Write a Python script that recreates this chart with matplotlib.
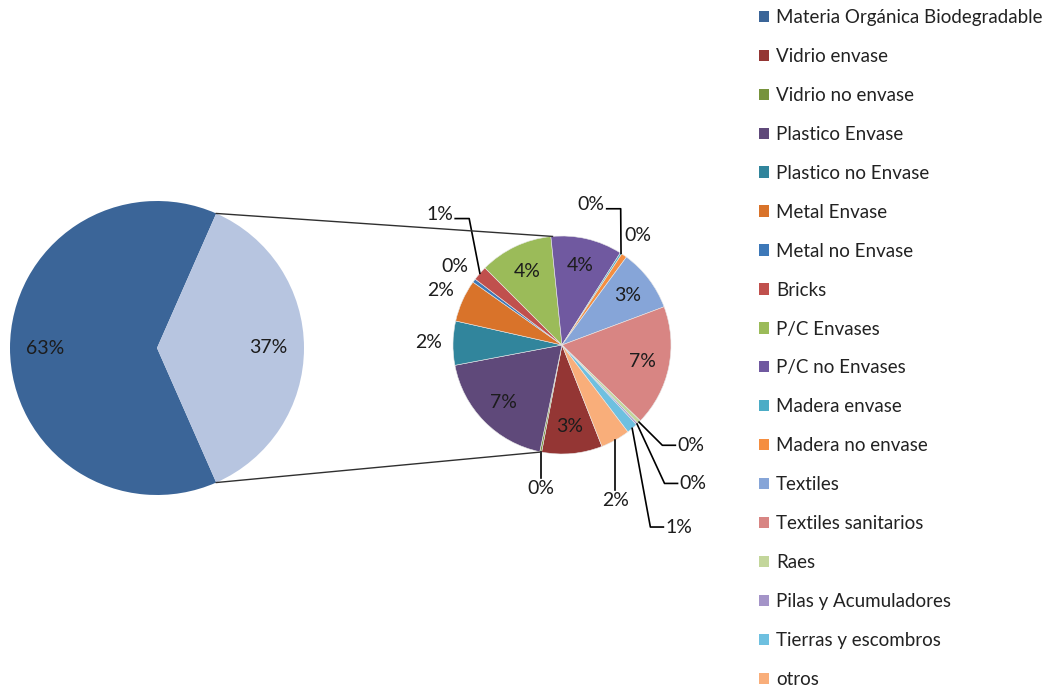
import matplotlib.pyplot as plt
import numpy as np
from matplotlib.patches import Patch

categories = [
    'Materia Orgánica Biodegradable', 'Vidrio envase', 'Vidrio no envase',
    'Plastico Envase', 'Plastico no Envase', 'Metal Envase', 'Metal no Envase',
    'Bricks', 'P/C Envases', 'P/C no Envases', 'Madera envase',
    'Madera no envase', 'Textiles', 'Textiles sanitarios', 'Raes',
    'Pilas y Acumuladores', 'Tierras y escombros', 'otros',
]
values = [63.2, 3.3, 0.1, 6.9, 2.4, 2.3, 0.2, 0.8, 4.0, 3.9, 0.1, 0.3,
          3.4, 6.6, 0.2, 0.1, 0.6, 1.6]
colors = ['#3B6598', '#943634', '#77933C', '#5F497A', '#31859C', '#D9732A',
          '#3D78B8', '#C0504D', '#9BBB59', '#7059A0', '#4BACC6', '#F58E40',
          '#86A5D8', '#D88583', '#C3D69B', '#A494C8', '#6EC0E0', '#F9AE7A']
rest_color = '#B7C5E0'

# label placement for the small slices of the secondary pie (in radius units)
leaders = {
    'Bricks': (-0.98, 1.16, 'right'),
    'Madera envase': (0.41, 1.25, 'right'),
    'Raes': (1.04, -0.92, 'left'),
    'Pilas y Acumuladores': (1.06, -1.27, 'left'),
    'Tierras y escombros': (0.93, -1.67, 'left'),
    'otros': (0, -1.33, 'down'),
    'Vidrio no envase': (0, -1.22, 'down'),
}

plt.rcParams['font.family'] = ['Lato', 'DejaVu Sans']
txt_color = '#1c1c1c'
lab_size = 14

fig = plt.figure(figsize=(10.49, 6.87), dpi=100)
ax = fig.add_axes([0, 0, 1, 1])

total = sum(values)
main_vals = [values[0], sum(values[1:])]
c1, r1 = (157, 339), 147
c2, r2 = (562, 342), 109

w_main, _ = ax.pie(main_vals, colors=[colors[0], rest_color], center=c1, radius=r1,
                   startangle=main_vals[1] / total * 180,
                   wedgeprops=dict(linewidth=0))
w_sec, _ = ax.pie(values[1:], colors=colors[1:], center=c2, radius=r2,
                  startangle=-68.5, counterclock=False,
                  wedgeprops=dict(linewidth=0.4, edgecolor='#e8e8e8'))

def pct(v):
    return f'{v / total * 100:.0f}%'

for w, v in zip(w_main, main_vals):
    a = np.deg2rad((w.theta1 + w.theta2) / 2)
    ax.text(c1[0] + 0.76 * r1 * np.cos(a), c1[1] + 0.76 * r1 * np.sin(a), pct(v),
            ha='center', va='center', fontsize=lab_size, color=txt_color)

for w, v, name in zip(w_sec, values[1:], categories[1:]):
    a = np.deg2rad((w.theta1 + w.theta2) / 2)
    px, py = c2[0] + r2 * np.cos(a), c2[1] + r2 * np.sin(a)
    if v >= 3:
        ax.text(c2[0] + 0.75 * r2 * np.cos(a), c2[1] + 0.75 * r2 * np.sin(a), pct(v),
                ha='center', va='center', fontsize=lab_size, color=txt_color)
    elif name in leaders:
        dx, dy, side = leaders[name]
        ax_, ay = c2[0] + dx * r2, c2[1] + dy * r2
        if side == 'right':
            ax.plot([px, ax_ + 14, ax_], [py, ay, ay], color='black', lw=1.2)
            ax.text(ax_ - 2, ay + 4, pct(v), ha='right', va='center', fontsize=lab_size, color=txt_color)
        elif side == 'left':
            ax.plot([px, ax_ - 13, ax_], [py, ay, ay], color='black', lw=1.2)
            ax.text(ax_ + 2, ay, pct(v), ha='left', va='center', fontsize=lab_size, color=txt_color)
        else:
            ax.plot([px, px], [py, ay], color='black', lw=1.2)
            ax.text(px, ay - 2, pct(v), ha='center', va='top', fontsize=lab_size, color=txt_color)
    else:
        ax.text(c2[0] + 1.22 * r2 * np.cos(a), c2[1] + 1.22 * r2 * np.sin(a), pct(v),
                ha='center', va='center', fontsize=lab_size, color=txt_color)

# connector lines between the two pies
half = np.deg2rad(main_vals[1] / total * 180)
for a1, a2 in [(half, 95), (-half, -101)]:
    a2 = np.deg2rad(a2)
    ax.plot([c1[0] + r1 * np.cos(a1), c2[0] + r2 * np.cos(a2)],
            [c1[1] + r1 * np.sin(a1), c2[1] + r2 * np.sin(a2)],
            color='#303030', lw=1)

ax.set_xlim(0, 1049)
ax.set_ylim(0, 687)
ax.set_aspect('equal')
ax.set_axis_off()

handles = [Patch(facecolor=c, edgecolor='none') for c in colors]
fig.legend(handles, categories, loc='upper left', bbox_to_anchor=(759 / 1049, 1 - 9 / 687),
           frameon=False, handlelength=0.55, handleheight=0.55, handletextpad=0.35,
           labelspacing=1.17, borderaxespad=0, borderpad=0,
           prop={'family': 'Lato', 'size': 13.5}, labelcolor='#222222')

fig.savefig('out.png', dpi=100, facecolor='white')
